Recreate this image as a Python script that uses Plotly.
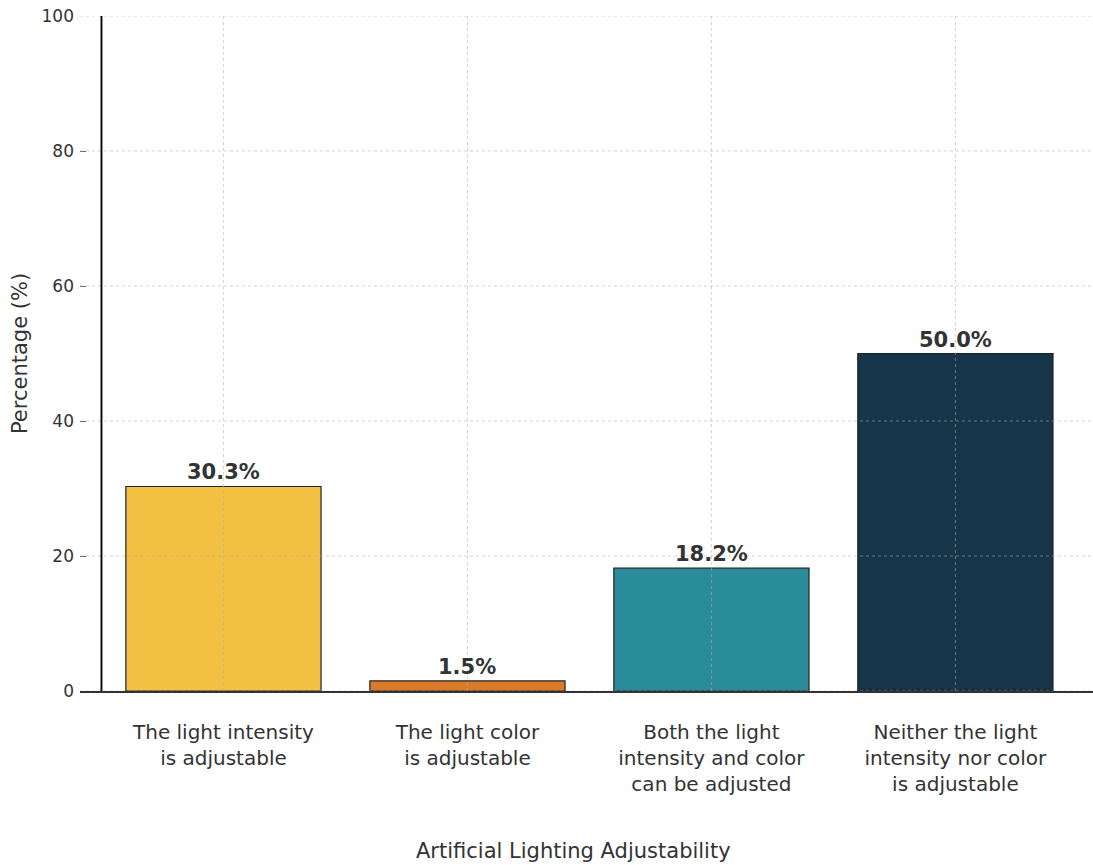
import plotly.graph_objects as go

# Survey results: adjustability of artificial lighting
categories = [
    "The light intensity<br>is adjustable",
    "The light color<br>is adjustable",
    "Both the light<br>intensity and color<br>can be adjusted",
    "Neither the light<br>intensity nor color<br>is adjustable",
]
percentages = [30.3, 1.5, 18.2, 50.0]
bar_colors = ["#F2C043", "#D97A2B", "#2A8C99", "#163548"]
y_ticks = [0, 20, 40, 60, 80, 100]

FONT = "DejaVu Sans"
TEXT = "#333333"

fig = go.Figure()
fig.add_trace(go.Bar(
    x=categories,
    y=percentages,
    width=0.8,
    marker=dict(color=bar_colors, line=dict(color="#222222", width=1.2)),
    hoverinfo="x+y",
    showlegend=False,
))

# Value labels above each bar
for cat, val in zip(categories, percentages):
    fig.add_annotation(
        x=cat, y=val, text=f"<b>{val:.1f}%</b>",
        showarrow=False, yanchor="bottom", yshift=0,
        font=dict(family=FONT, size=21, color=TEXT),
    )

# X-axis title, centred under the bar block
fig.add_annotation(
    text="Artificial Lighting Adjustability",
    xref="paper", yref="paper", x=0.487, y=0, yshift=-160,
    xanchor="center", yanchor="middle", showarrow=False,
    font=dict(family=FONT, size=21, color=TEXT),
)

grid_style = dict(color="rgba(175,175,175,0.55)", width=1, dash="dot")
shapes = []
# Horizontal grid drawn over the bars
for t in y_ticks:
    shapes.append(dict(type="line", xref="paper", yref="y", x0=0, x1=1,
                       y0=t, y1=t, line=grid_style, layer="above"))
# Vertical grid at each category
for i in range(len(categories)):
    shapes.append(dict(type="line", xref="x", yref="y", x0=i, x1=i,
                       y0=0, y1=100, line=grid_style, layer="above"))
# Left spine at the edge of the first category slot
shapes.append(dict(type="line", xref="x", yref="y", x0=-0.5, x1=-0.5,
                   y0=0, y1=100, line=dict(color="#111111", width=2),
                   layer="above"))

fig.update_layout(
    width=1093, height=865,
    margin=dict(l=80, r=0, t=16, b=174),
    paper_bgcolor="white", plot_bgcolor="white",
    font=dict(family=FONT, color=TEXT),
    shapes=shapes,
    bargap=0.2,
)
fig.update_xaxes(
    range=[-0.588, 3.564],
    showgrid=False, zeroline=False,
    showline=True, linecolor="#333333", linewidth=1.5,
    ticks="", ticklabelstandoff=22,
    tickfont=dict(family=FONT, size=20, color=TEXT),
)
fig.update_yaxes(
    range=[0, 100], tickvals=y_ticks,
    showgrid=False, zeroline=False, showline=False,
    ticks="inside", ticklen=6, tickcolor="#666666", tickwidth=1,
    ticklabelstandoff=5,
    tickfont=dict(family=FONT, size=17, color=TEXT),
    title=dict(text="Percentage (%)",
               font=dict(family=FONT, size=21, color=TEXT), standoff=8),
)

fig.write_html("out.html")
